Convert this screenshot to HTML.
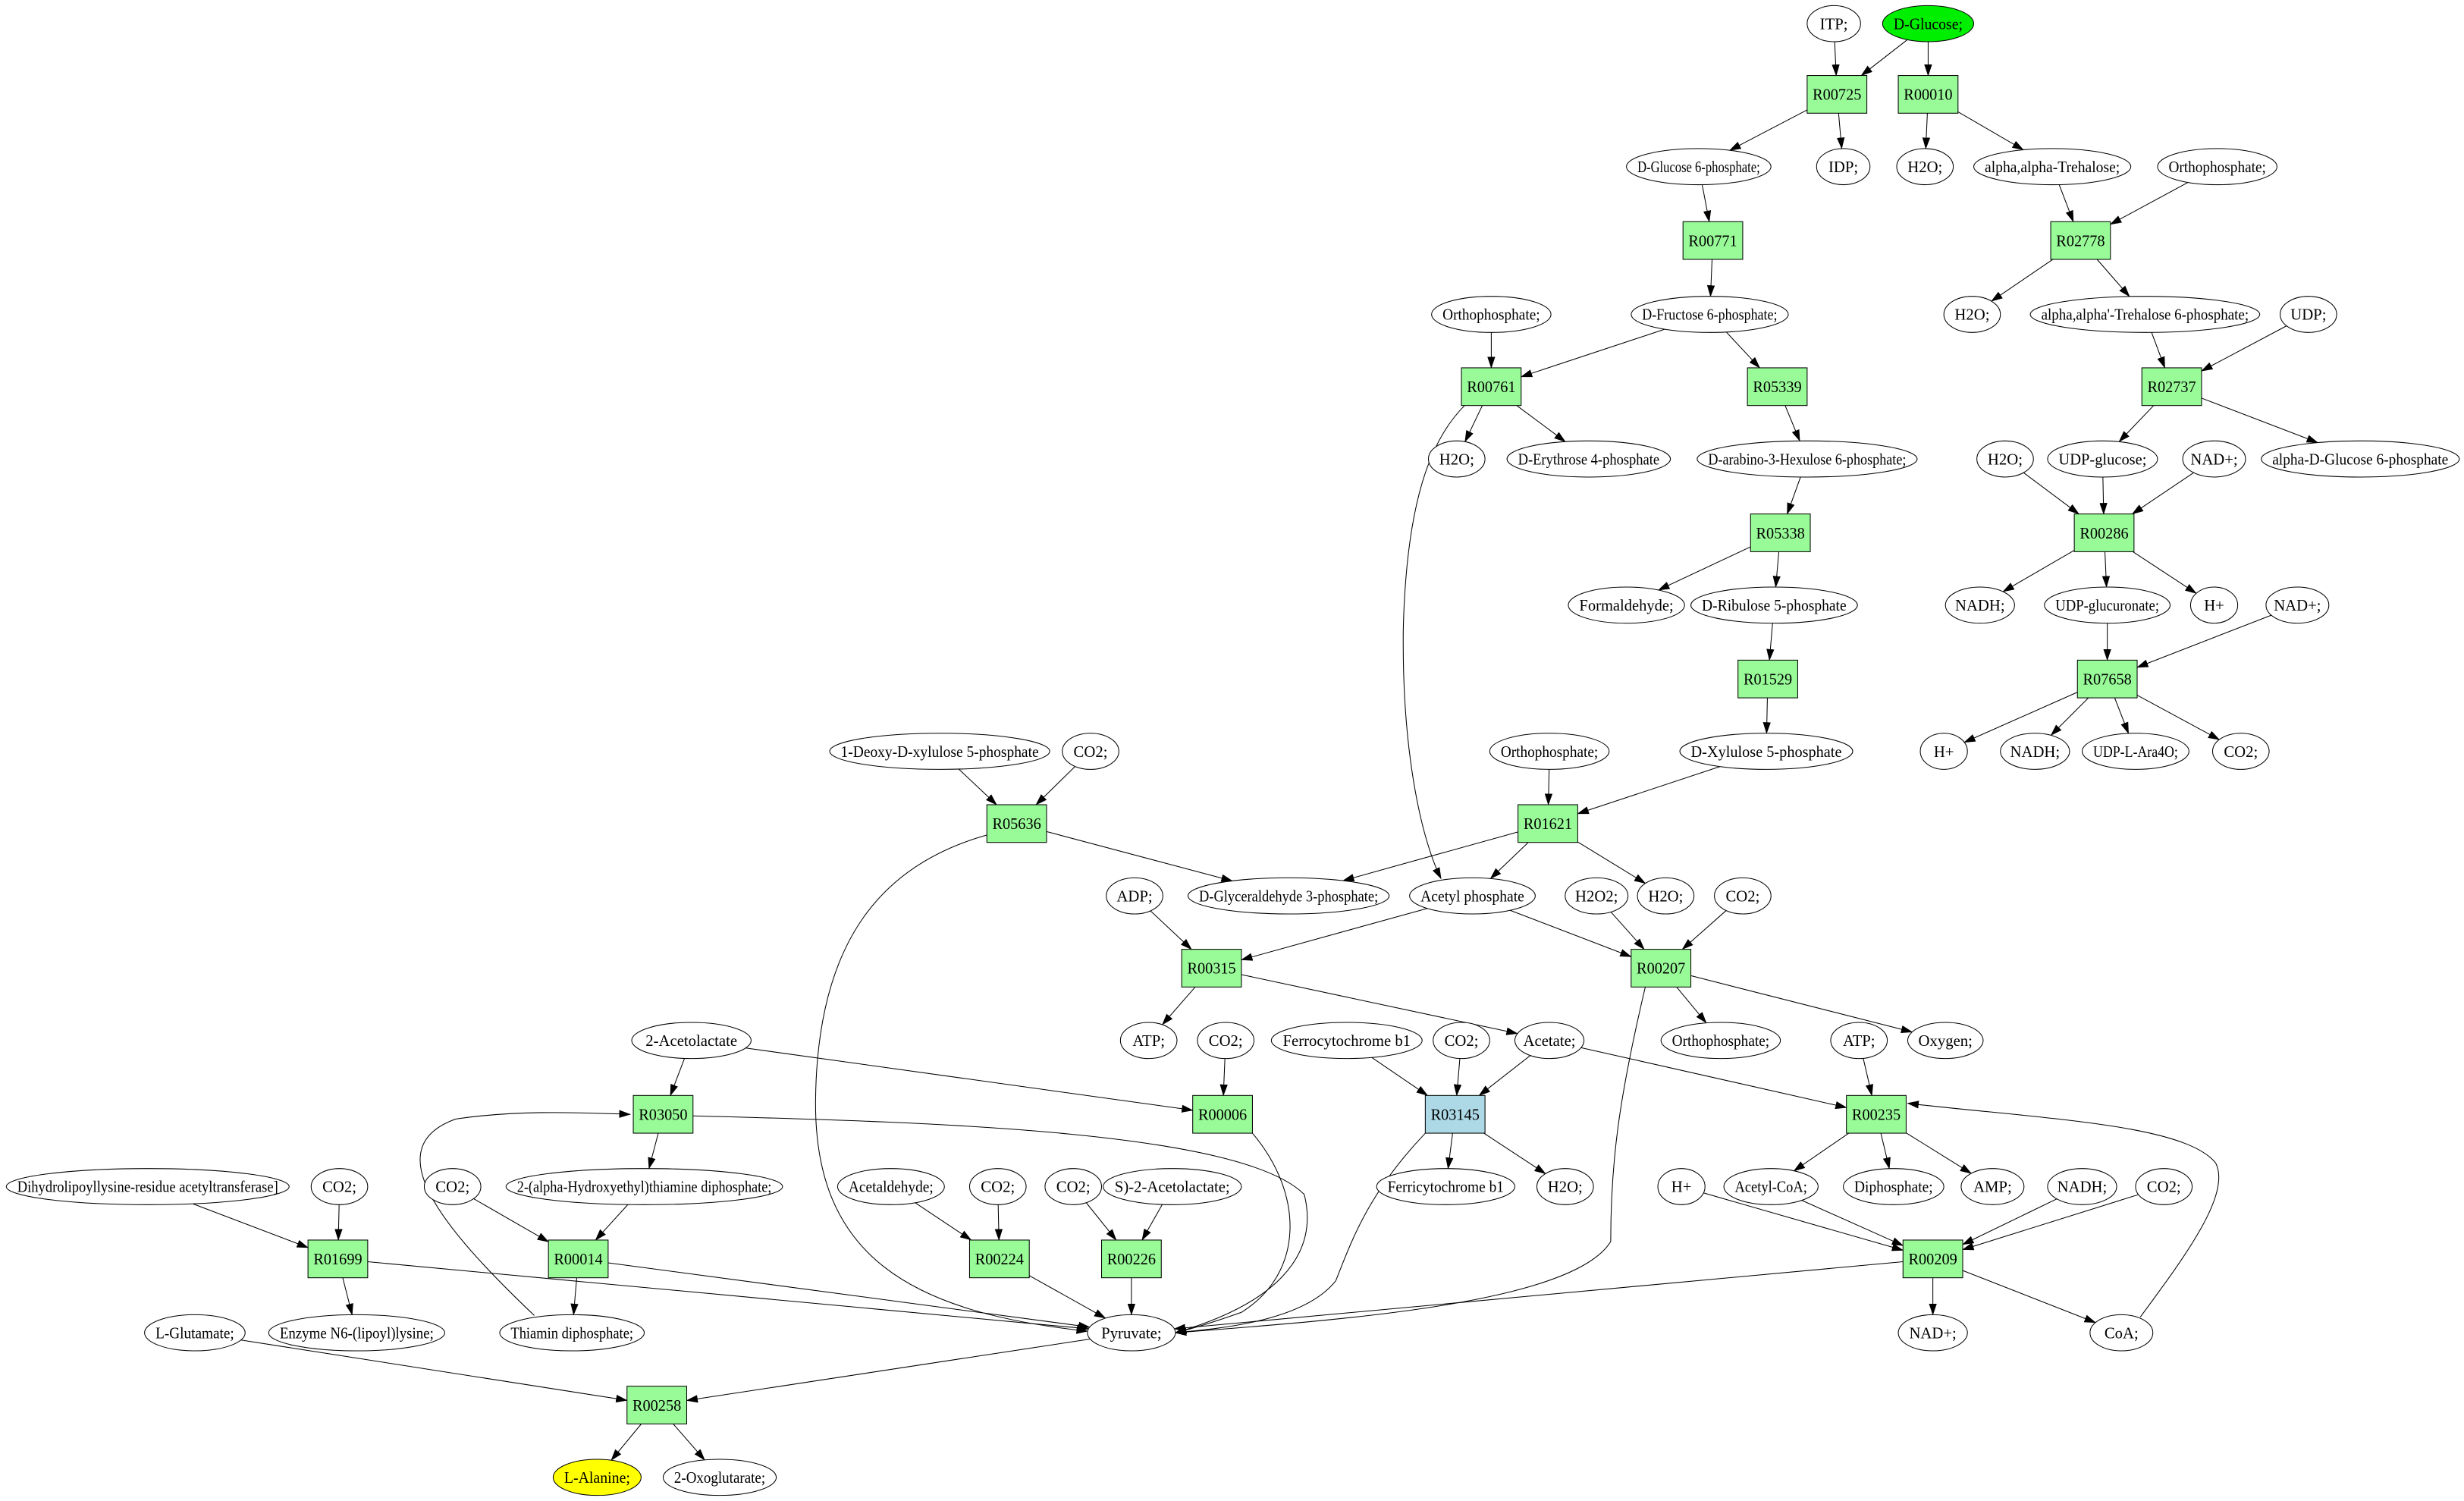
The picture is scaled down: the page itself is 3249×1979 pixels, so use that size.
<!DOCTYPE html>
<html><head><meta charset="utf-8"><style>
html,body{margin:0;padding:0;background:#fff;}
svg{display:block;}
text{font-family:"Liberation Serif",serif;font-size:10px;fill:#000;}
</style></head><body>
<svg id="g" width="3249" height="1979" viewBox="0 0 1568 955" xmlns="http://www.w3.org/2000/svg">
<defs><marker id="a" markerUnits="userSpaceOnUse" markerWidth="9" markerHeight="6" refX="7" refY="2.5" orient="auto"><path d="M0,0 L7.5,2.5 L0,5 z" fill="#000"/></marker></defs>
<g id="E" fill="none" stroke="#000" stroke-width="0.5"></g>
<g id="N"></g>
</svg>
<script>
var N={},S="http://www.w3.org/2000/svg";
function n(id,l,x,y,rx,f){N[id]={l:l,x:x,y:y,rx:rx,f:f||"#fff",b:false};}
function b(id,x,y,f){N[id]={l:id,x:x,y:y,f:f||"#98fb98",b:true};}
n("ITP","ITP;",1167,15,17);n("DG","D-Glucose;",1227,15,29,"#00ee00");
b("R00725",1169,60);b("R00010",1227,60);
n("G6P","D-Glucose 6-phosphate;",1081,106,46);n("IDP","IDP;",1173,106,17);n("H1","H2O;",1225,106,18);
n("TRE","alpha,alpha-Trehalose;",1306,106,50);n("OP1","Orthophosphate;",1411,106,38);
b("R02778",1324,153);b("R00771",1090,153);
n("OP2","Orthophosphate;",949,200,38);n("F6P","D-Fructose 6-phosphate;",1088,200,50);n("H2","H2O;",1255,200,18);
n("T6P","alpha,alpha'-Trehalose 6-phosphate;",1365,200,73);n("UDP","UDP;",1469,200,18);
b("R00761",949,246);b("R05339",1131,246);b("R02737",1382,246);
n("H3","H2O;",927,292,18);n("E4P","D-Erythrose 4-phosphate",1011,292,52);n("AH","D-arabino-3-Hexulose 6-phosphate;",1150,292,70);
n("H4","H2O;",1276,292,18);n("UG","UDP-glucose;",1338,292,35);n("NAD1","NAD+;",1409,292,20);n("AG6P","alpha-D-Glucose 6-phosphate",1502,292,63);
b("R05338",1133,339);b("R00286",1339,339);
n("FA","Formaldehyde;",1035,385,37);n("RU","D-Ribulose 5-phosphate",1129,385,53);n("NADH1","NADH;",1260,385,22);
n("UGA","UDP-glucuronate;",1341,385,40);n("HP1","H+",1409,385,15);n("NAD2","NAD+;",1462,385,20);
b("R01529",1125,432);b("R07658",1341,432);
n("DX","1-Deoxy-D-xylulose 5-phosphate",598,478,70);n("C1","CO2;",694,478,18);n("OP3","Orthophosphate;",986,478,38);
n("XU","D-Xylulose 5-phosphate",1124,478,55);n("HP2","H+",1237,478,15);n("NADH2","NADH;",1295,478,22);
n("ARA","UDP-L-Ara4O;",1359,478,34);n("C2","CO2;",1426,478,18);
b("R05636",647,524);b("R01621",985,524);
n("ADP","ADP;",722,570,18);n("GAP","D-Glyceraldehyde 3-phosphate;",820,570,64);n("AP","Acetyl phosphate",937,570,40);
n("H2O2","H2O2;",1016,570,20);n("H5","H2O;",1060,570,18);n("C3","CO2;",1109,570,18);
b("R00315",771,616);b("R00207",1057,616);
n("AL","2-Acetolactate",440,662,38);n("ATP1","ATP;",731,662,18);n("C4","CO2;",780,662,18);n("FC","Ferrocytochrome b1",857,662,48);
n("C5","CO2;",930,662,18);n("AC","Acetate;",986,662,22);n("OP4","Orthophosphate;",1095,662,38);n("ATP2","ATP;",1183,662,18);n("OX","Oxygen;",1238,662,24);
b("R03050",422,709);b("R00006",778,709);b("R03145",926,709,"#add8e6");b("R00235",1194,709);
n("DH","Dihydrolipoyllysine-residue acetyltransferase]",94,755,90);n("C6","CO2;",216,755,18);n("C7","CO2;",288,755,18);
n("HET","2-(alpha-Hydroxyethyl)thiamine diphosphate;",410,755,88);n("AA","Acetaldehyde;",567,755,34);n("C8","CO2;",635,755,18);
n("C9","CO2;",683,755,18);n("SAL","S)-2-Acetolactate;",746,755,44);n("FE","Ferricytochrome b1",920,755,44);n("H6","H2O;",996,755,18);
n("HP3","H+",1070,755,15);n("ACA","Acetyl-CoA;",1127,755,30);n("PP","Diphosphate;",1205,755,32);n("AMP","AMP;",1268,755,20);
n("NADH3","NADH;",1325,755,22);n("C10","CO2;",1377,755,18);
b("R01699",215,801);b("R00014",368,801);b("R00224",636,801);b("R00226",720,801);b("R00209",1230,801);
n("LG","L-Glutamate;",124,848,32);n("EN","Enzyme N6-(lipoyl)lysine;",227,848,56);n("TD","Thiamin diphosphate;",364,848,46);
n("PY","Pyruvate;",720,848,28);n("NAD3","NAD+;",1230,848,22);n("COA","CoA;",1350,848,20);
b("R00258",418,894);
n("LA","L-Alanine;",380,940,28,"#ffff00");n("OG","2-Oxoglutarate;",458,940,36);
var RY=11.5,BW=19,BH=12;
function clip(nd,dx,dy){
 var t;
 if(nd.b){t=Math.min(dx?BW/Math.abs(dx):1e9,dy?BH/Math.abs(dy):1e9);}
 else{t=1/Math.sqrt(dx*dx/(nd.rx*nd.rx)+dy*dy/(RY*RY));}
 return [nd.x+dx*t,nd.y+dy*t];}
var E="ITP>R00725 DG>R00725 DG>R00010 R00725>G6P R00725>IDP R00010>H1 R00010>TRE TRE>R02778 OP1>R02778 R02778>H2 R02778>T6P T6P>R02737 UDP>R02737 R02737>UG R02737>AG6P G6P>R00771 R00771>F6P F6P>R00761 OP2>R00761 F6P>R05339 R00761>H3 R00761>E4P R05339>AH AH>R05338 R05338>FA R05338>RU RU>R01529 R01529>XU XU>R01621 OP3>R01621 R01621>GAP R01621>AP R01621>H5 R05636>GAP DX>R05636 C1>R05636 H4>R00286 UG>R00286 NAD1>R00286 R00286>NADH1 R00286>UGA R00286>HP1 UGA>R07658 NAD2>R07658 R07658>HP2 R07658>NADH2 R07658>ARA R07658>C2 ADP>R00315 AP>R00315 R00315>ATP1 R00315>AC AP>R00207 H2O2>R00207 C3>R00207 R00207>OP4 R00207>OX AL>R03050 AL>R00006 C4>R00006 FC>R03145 C5>R03145 AC>R03145 R03145>FE R03145>H6 AC>R00235 ATP2>R00235 R00235>ACA R00235>PP R00235>AMP R03050>HET DH>R01699 C6>R01699 R01699>EN R01699>PY C7>R00014 HET>R00014 R00014>TD R00014>PY AA>R00224 C8>R00224 R00224>PY C9>R00226 SAL>R00226 R00226>PY HP3>R00209 ACA>R00209 NADH3>R00209 C10>R00209 R00209>NAD3 R00209>COA R00209>PY LG>R00258 PY>R00258 R00258>LA R00258>OG".split(" ");
var EG=document.getElementById("E"),NG=document.getElementById("N");
function path(d){var p=document.createElementNS(S,"path");p.setAttribute("d",d);p.setAttribute("marker-end","url(#a)");EG.appendChild(p);}
E.forEach(function(e){var s=e.split(">"),A=N[s[0]],B=N[s[1]];var dx=B.x-A.x,dy=B.y-A.y;
 var p=clip(A,dx,dy),q=clip(B,-dx,-dy);path("M"+p[0].toFixed(1)+","+p[1].toFixed(1)+" L"+q[0].toFixed(1)+","+q[1].toFixed(1));});
path("M932,258 C910,280 895,320 893,400 C892,480 905,535 917,559");
path("M629,531 C560,550 520,600 519,700 C518,800 580,835 692,847");
path("M1047,628 C1030,700 1025,740 1025,790 C1000,830 850,840 748,848");
path("M797,721 C830,760 830,810 790,835 C770,842 760,845 748,848");
path("M907,721 C870,760 860,790 850,815 C830,840 780,845 748,848");
path("M441,710 C600,714 790,720 830,760 C840,800 810,830 748,848");
path("M340,837 C280,780 240,730 290,712 C330,706 370,708 401,709");
path("M1362,838 C1390,800 1420,760 1410,740 C1390,715 1300,712 1214,702");
Object.keys(N).forEach(function(k){var d=N[k],el;
 if(d.b){el=document.createElementNS(S,"rect");el.setAttribute("x",d.x-BW);el.setAttribute("y",d.y-BH);el.setAttribute("width",2*BW);el.setAttribute("height",2*BH);}
 else{el=document.createElementNS(S,"ellipse");el.setAttribute("cx",d.x);el.setAttribute("cy",d.y);el.setAttribute("rx",d.rx);el.setAttribute("ry",RY);}
 el.setAttribute("fill",d.f);el.setAttribute("stroke","#000");el.setAttribute("stroke-width","0.5");NG.appendChild(el);
 var t=document.createElementNS(S,"text");t.setAttribute("x",d.x);t.setAttribute("y",d.y+3.5);t.setAttribute("text-anchor","middle");t.textContent=d.l;NG.appendChild(t);
 var w=t.getComputedTextLength(),max=d.b?31:(2*d.rx-(d.rx>25?14:6));
 if(w>max){t.setAttribute("textLength",max.toFixed(1));t.setAttribute("lengthAdjust","spacingAndGlyphs");}
});
</script>
</body></html>
